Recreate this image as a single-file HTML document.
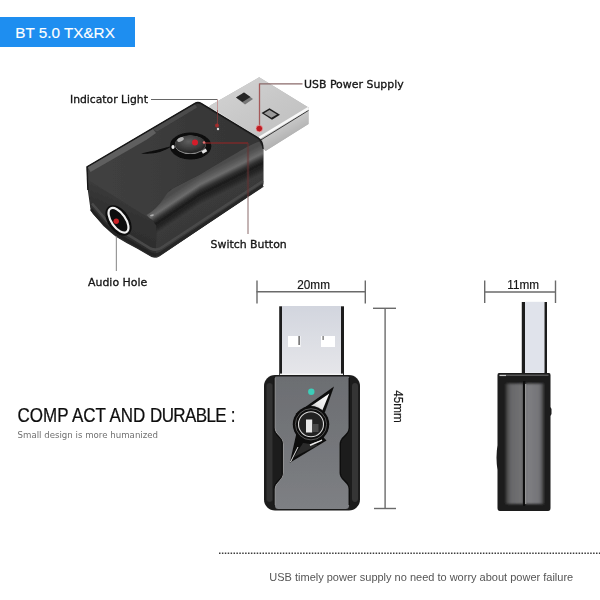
<!DOCTYPE html>
<html lang="en">
<head>
<meta charset="utf-8">
<title>BT 5.0 TX&amp;RX</title>
<style>
html,body{margin:0;padding:0;background:#fff;}
body{width:600px;height:600px;overflow:hidden;font-family:"Liberation Sans",sans-serif;}
svg{display:block;}
text{font-family:"Liberation Sans",sans-serif;}
text.dj{font-family:"DejaVu Sans","Liberation Sans",sans-serif;}
</style>
</head>
<body>
<svg width="600" height="600" viewBox="0 0 600 600">
<defs>
  <filter id="soft" x="-5%" y="-5%" width="110%" height="110%"><feGaussianBlur stdDeviation="0.55"/></filter>
  <filter id="soft3" x="-20%" y="-5%" width="140%" height="110%"><feGaussianBlur stdDeviation="0.9"/></filter>
  <filter id="soft2" x="-20%" y="-20%" width="140%" height="140%"><feGaussianBlur stdDeviation="1.2"/></filter>
  <filter id="tsoft" x="-5%" y="-20%" width="110%" height="140%"><feGaussianBlur stdDeviation="0.25"/></filter>
  <linearGradient id="metalTop" x1="0" y1="0" x2="1" y2="1">
    <stop offset="0" stop-color="#d6d6d6"/><stop offset="0.5" stop-color="#c8c8c8"/><stop offset="1" stop-color="#bebebe"/>
  </linearGradient>
  <linearGradient id="metalFront" x1="0" y1="0" x2="0" y2="1">
    <stop offset="0" stop-color="#d2d5de"/><stop offset="0.5" stop-color="#dcdee4"/><stop offset="1" stop-color="#e6e6ea"/>
  </linearGradient>
  <linearGradient id="topSurf" gradientUnits="userSpaceOnUse" x1="100" y1="160" x2="250" y2="160">
    <stop offset="0" stop-color="#404040"/><stop offset="0.5" stop-color="#3a3a3a"/><stop offset="1" stop-color="#343434"/>
  </linearGradient>
  <linearGradient id="metalEdge" gradientUnits="userSpaceOnUse" x1="285" y1="122" x2="292" y2="135">
    <stop offset="0" stop-color="#cacaca"/><stop offset="1" stop-color="#b4b4b4"/>
  </linearGradient>
  <linearGradient id="sideG" gradientUnits="userSpaceOnUse" x1="200" y1="175" x2="224.400" y2="211.600">
    <stop offset="0" stop-color="#4c4c4c"/><stop offset="0.08" stop-color="#585858"/><stop offset="0.18" stop-color="#6c6c6c"/><stop offset="0.28" stop-color="#343434"/>
    <stop offset="0.36" stop-color="#1c1c1c"/><stop offset="0.46" stop-color="#262626"/><stop offset="0.56" stop-color="#3a3a3a"/>
    <stop offset="1" stop-color="#383838"/>
  </linearGradient>
  <linearGradient id="sideGR" gradientUnits="userSpaceOnUse" x1="200" y1="175" x2="221.200" y2="217.400">
    <stop offset="0" stop-color="#4c4c4c"/><stop offset="0.08" stop-color="#585858"/><stop offset="0.18" stop-color="#6c6c6c"/><stop offset="0.28" stop-color="#343434"/>
    <stop offset="0.36" stop-color="#1c1c1c"/><stop offset="0.46" stop-color="#262626"/><stop offset="0.56" stop-color="#3a3a3a"/>
    <stop offset="1" stop-color="#383838"/>
  </linearGradient>
  <clipPath id="clipL"><rect x="80" y="90" width="120" height="180"/></clipPath>
  <clipPath id="clipR"><rect x="200" y="90" width="80" height="180"/></clipPath>
  <linearGradient id="shoulder" gradientUnits="userSpaceOnUse" x1="205" y1="168" x2="216" y2="190">
    <stop offset="0" stop-color="#343434"/><stop offset="0.4" stop-color="#545454"/><stop offset="0.75" stop-color="#404040"/><stop offset="1" stop-color="#2a2a2a"/>
  </linearGradient>
  <linearGradient id="sideLow" gradientUnits="userSpaceOnUse" x1="210" y1="192" x2="222" y2="214">
    <stop offset="0" stop-color="#242424"/><stop offset="0.45" stop-color="#2c2c2c"/><stop offset="0.6" stop-color="#444"/><stop offset="1" stop-color="#303030"/>
  </linearGradient>
  <linearGradient id="endFace" gradientUnits="userSpaceOnUse" x1="130" y1="195" x2="112" y2="240">
    <stop offset="0" stop-color="#3c3c3c"/><stop offset="0.35" stop-color="#333"/><stop offset="1" stop-color="#2c2c2c"/>
  </linearGradient>
  <linearGradient id="panel" x1="0" y1="0" x2="0" y2="1">
    <stop offset="0" stop-color="#6c6e72"/><stop offset="0.5" stop-color="#74767a"/><stop offset="1" stop-color="#7e8084"/>
  </linearGradient>
  <linearGradient id="sidePanelL" x1="0" y1="0" x2="1" y2="0">
    <stop offset="0" stop-color="#3a3a3a"/><stop offset="0.3" stop-color="#68686a"/><stop offset="1" stop-color="#727274"/>
  </linearGradient>
  <linearGradient id="sidePanelR" x1="0" y1="0" x2="1" y2="0">
    <stop offset="0" stop-color="#808084"/><stop offset="0.75" stop-color="#747478"/><stop offset="1" stop-color="#3a3a3a"/>
  </linearGradient>
  <linearGradient id="boltHi" x1="1" y1="0" x2="0" y2="1">
    <stop offset="0" stop-color="#ffffff"/><stop offset="0.6" stop-color="#e8e8e8"/><stop offset="1" stop-color="#9a9a9a"/>
  </linearGradient>
  <radialGradient id="btn" cx="0.45" cy="0.35" r="0.7">
    <stop offset="0" stop-color="#5e5e5e"/><stop offset="0.6" stop-color="#3a3a3a"/><stop offset="1" stop-color="#1c1c1c"/>
  </radialGradient>
</defs>
<rect width="600" height="600" fill="#fff"/>
<rect x="0" y="17" width="135" height="30" fill="#1e8ef0"/>
<text transform="translate(15.3,38) scale(0.985,1)" font-size="15.5" fill="#fff" stroke="#fff" stroke-width="0.15">BT 5.0 TX&amp;RX</text>

<g id="persp" filter="url(#soft)">
  <!-- usb plug -->
  <polygon points="211,105 259.200,77.300 308.500,107.500 308.500,124 265.500,151 256,141 206,110" fill="#b4b4b4"/>
  <polygon points="211,105 259.200,77.300 308.500,107.500 260,137.500 256,141 206,110" fill="url(#metalTop)"/>
  <polygon points="214,109.500 258,137 256,141 206,110" fill="#ececec"/>
  <polygon points="308.500,107.500 308.500,124 265.500,151 262,138" fill="url(#metalEdge)"/>
  <polyline points="260.500,140.200 308.500,110.400" stroke="#3a3a3a" stroke-width="1" fill="none"/>
  <polyline points="259,138 308.500,108.200" stroke="#f8f8f8" stroke-width="2.600" fill="none"/>
  <polygon points="236,97.500 244,92.500 253,99 245,104.500" fill="#777"/>
  <polygon points="236,97.500 244,92.500 250.500,97 242.500,102" fill="#262626"/>
  <polygon points="261.500,113 269.500,108.300 280,114.800 272,119.700" fill="#1c1c1c"/>
  <polygon points="264,113.200 269.500,110 277,114.600 271.500,117.800" fill="#9a9a9a"/>
  <!-- body silhouette -->
  <path id="sil" d="M86.700,166.700 L194.500,103.200 Q198,101.200 201.500,103.300 L258,137.500 Q263.300,141 263.300,149 L263.300,184 Q263.300,186.500 261,188 L159.500,256.300 Q156,258.800 151.500,257 L137.300,248.700 Q126,243 116,236.700 Q110,232.500 104,226 L93,214 Q90.500,211.500 90.300,208 L87.800,190 Z" fill="#2a2a2a"/>
  <!-- top surface + end face base -->
  <path d="M88,167.500 L195,104.800 Q198,103 201,104.800 L257.500,139 Q260.500,141 258.500,143.500 L170,190 L150,220 L156,256 L151.500,256 L137.300,247.700 Q126,242 116,235.700 Q110,231.500 104,225 L94,214 Q91.500,211.500 91.300,208 L88.800,190 Z" fill="url(#topSurf)"/>
  <!-- end face darkening -->
  <path d="M88.500,180 L146,216 L156,224 L157,256.500 L151.500,256.500 L137.300,248.200 Q126,242.500 116,236.200 Q110,232 104,225.500 L93.500,214 Q91,211.500 90.800,208 Z" fill="url(#endFace)"/>
  <!-- top-left bevel -->
  <path d="M87.800,167.300 L153,129 L156,133 L147,139.500 L90.500,172 Z" fill="#5e5e5e"/>
  <path d="M153,129 L195,104.500 L197,107.500 L157,131.500 Z" fill="#4c4c4c"/>
  <!-- side (shoulder + lower) -->
  <path clip-path="url(#clipL)" d="M146.500,215 Q157,209 164,198 Q167,192.500 172,189 L200,174.500 L240,151 Q252,144 259.500,141.500 L263.300,149 L263.300,184 Q263.300,186.500 261,188 L159.500,256.300 Q157.500,257.500 156,257.500 L156.500,226 Q152,219 146.500,215 Z" fill="url(#sideG)"/>
  <path clip-path="url(#clipR)" d="M146.500,215 Q157,209 164,198 Q167,192.500 172,189 L200,174.500 L240,151 Q252,144 259.500,141.500 L263.300,149 L263.300,184 Q263.300,186.500 261,188 L159.500,256.300 Q157.500,257.500 156,257.500 L156.500,226 Q152,219 146.500,215 Z" fill="url(#sideGR)"/>
  <!-- chamfer strip -->
  <path d="M92,203.500 L106.700,220.700 Q117,229.500 129,235.500 L150.500,248.500 Q156,251 161,248 L263,181" fill="none" stroke="#4c4c4c" stroke-width="2.600" opacity="0.9"/>
  <path d="M91,209 L104,224.500 Q115,234 128,240.500 L150.500,253.500 Q156,256 161,253 L263,185.500" fill="none" stroke="#222" stroke-width="3" opacity="0.8"/>
  <!-- outline -->
  <path d="M87.800,190 L86.900,166.800 L194.500,103.400 Q198,101.400 201.500,103.500 L258,137.700 Q263.100,141 263.100,149" fill="none" stroke="#151515" stroke-width="1.200"/>
  <!-- shoulder tip glint -->
  <ellipse cx="152" cy="215.300" rx="2" ry="0.900" fill="#b0b0b0" transform="rotate(-15 152 215.300)"/>
  <!-- crease -->
  <path d="M141,153.500 Q158,150 172,146 Q160,155 141,153.500 Z" fill="#0a0a0a"/>
  <!-- button -->
  <ellipse cx="190.600" cy="146" rx="20.700" ry="13.400" fill="#0b0b0b"/>
  <ellipse cx="190.300" cy="144.800" rx="15.500" ry="9.300" fill="#8a8a8a"/>
  <ellipse cx="190.300" cy="144.200" rx="15.300" ry="9" fill="url(#btn)"/>
  <ellipse cx="180.500" cy="139.500" rx="3.500" ry="2" fill="#b0b0b0" transform="rotate(-25 180.500 139.500)"/>
  <ellipse cx="173" cy="147" rx="1.600" ry="2" fill="#eee"/>
  <rect x="201.800" y="149.700" width="5" height="3" fill="#e4e4e4" transform="rotate(-32 204.300 151.200)"/>
  <!-- jack -->
  <ellipse cx="118.500" cy="220.500" rx="10.500" ry="17.200" fill="#0c0c0c" transform="rotate(-35 118.500 220.500)"/>
  <ellipse cx="118.500" cy="220.300" rx="7" ry="14.200" fill="#0c0c0c" stroke="#f0f0f0" stroke-width="2.200" transform="rotate(-35 118.500 220.300)"/>
</g>

<g fill="none" stroke-width="1">
  <polyline points="151,99.500 217.500,99.500" stroke="#666"/>
  <polyline points="217.500,99.500 217.500,110" stroke="#c49a9a"/>
  <polyline points="217.500,110 217.500,126" stroke="#8a3a3a" opacity="0.7"/>
  <polyline points="302.500,83.800 259.500,83.800" stroke="#8a6a6a" stroke-width="1.200"/>
  <polyline points="259.500,83.500 259.500,126" stroke="#a45a5a" stroke-width="1.300"/>
  <g filter="url(#soft)"><polyline points="204,143 248,143" stroke="#8a2a2a" opacity="0.6" stroke-width="1.800"/>
  <polyline points="248,143 248,196" stroke="#6a3030" opacity="0.5" stroke-width="2.400"/></g>
  <line x1="248" y1="196" x2="248" y2="234" stroke="#8a6a6a"/>
  <line x1="116.400" y1="236.500" x2="116.400" y2="271" stroke="#999" stroke-width="1.200"/>
</g>
<g filter="url(#tsoft)">
<circle cx="259.300" cy="128.600" r="3.300" fill="#bc1a22" stroke="#f0a8a8" stroke-width="1" stroke-opacity="0.7"/>
<circle cx="195" cy="142.500" r="3" fill="#d41f2a"/>
<circle cx="204" cy="142.500" r="1.300" fill="#e07070"/>
<circle cx="116.200" cy="221.200" r="2.700" fill="#cc2028"/>
<circle cx="217" cy="125.500" r="2" fill="#b02a2a" opacity="0.85"/>
<circle cx="218" cy="129" r="1.200" fill="#ddd"/>
</g>
<g filter="url(#tsoft)">
<text transform="translate(70,102.7) scale(0.99,1)" font-size="10.9" fill="#141414" class="dj" stroke="#141414" stroke-width="0.3">Indicator Light</text>
<text transform="translate(304,88) scale(1.005,1)" font-size="10.9" fill="#141414" class="dj" stroke="#141414" stroke-width="0.3">USB Power Supply</text>
<text transform="translate(210.5,247.5) scale(1.005,1)" font-size="10.9" fill="#141414" class="dj" stroke="#141414" stroke-width="0.3">Switch Button</text>
<text transform="translate(88,286) scale(1.005,1)" font-size="10.9" fill="#141414" class="dj" stroke="#141414" stroke-width="0.3">Audio Hole</text>
</g>

<g id="front" filter="url(#soft)">
  <rect x="279.200" y="306.300" width="3" height="70" fill="#1e1e1e"/>
  <rect x="341" y="306.300" width="3" height="70" fill="#1e1e1e"/>
  <rect x="282" y="306" width="59" height="69" fill="url(#metalFront)"/>
  <rect x="280" y="373.600" width="63" height="1.600" fill="#f4f4f4"/>
  <rect x="288" y="336" width="12.500" height="11" fill="#fff"/>
  <rect x="321" y="336" width="14" height="11" fill="#fff"/>
  <rect x="298.500" y="336" width="1.200" height="9" fill="#444"/>
  <rect x="322.500" y="336" width="1.200" height="4" fill="#666"/>
  <rect x="264" y="375" width="96" height="135.500" rx="11" fill="#1d1d1d"/>
  <path d="M276,377.300 L348,377.300" stroke="#b0b0b0" stroke-width="0.800"/>
  <rect x="266.500" y="383" width="6" height="119" rx="3" fill="#303030"/>
  <rect x="352" y="383" width="6" height="119" rx="3" fill="#343434"/>
  <path d="M275,376.800 L349,376.800 L349,428 Q349,432 344.500,436 Q340,440 340,444 L340,473 Q340,477 344.500,481 Q349,485 349,489 L349,505.500 Q349,509 345.500,509 L278.500,509 Q275,509 275,505.500 L275,489 Q275,485 279.300,481 Q283.500,477 283.500,473 L283.500,444 Q283.500,440 279.300,436 Q275,432 275,428 Z" fill="url(#panel)"/>
  <path d="M275,378 L275,428 Q275,432 279.300,436 Q283.500,440 283.500,444 L283.500,473 Q283.500,477 279.300,481 Q275,485 275,489 L275,505" fill="none" stroke="#9a9a9a" stroke-width="0.900"/>
  <path d="M273.800,378 L273.800,428 Q273.800,432 278,436 Q282.200,440 282.200,444 L282.200,473 Q282.200,477 278,481 Q273.800,485 273.800,489 L273.800,505" fill="none" stroke="#111" stroke-width="1.200"/>
  <path d="M349.300,378 L349.300,428 Q349.300,432 344.800,436 Q340.300,440 340.300,444 L340.300,473 Q340.300,477 344.800,481 Q349.300,485 349.300,489 L349.300,505" fill="none" stroke="#111" stroke-width="1.500"/>
  <!-- bolt -->
  <path d="M334,386.500 L295.500,414 L311,424 L325,412 Z" fill="#0d0d0d"/>
  <path d="M296.500,433 L289.800,462.800 L326.500,440.500 L311,424 Z" fill="#0d0d0d"/>
  <path d="M329.300,393.500 L309.500,407 L322,411.300 Z" fill="url(#boltHi)"/>
  <path d="M294,457 L303,443 L318,445 Z" fill="#2c2c2c"/>
  <path d="M310,445.300 L322,440" stroke="#e8e8e8" stroke-width="1.700" fill="none"/>
  <path d="M290.500,462 L298,447" stroke="#ddd" stroke-width="1" fill="none"/>
  <!-- button -->
  <circle cx="311" cy="424.300" r="18.200" fill="#0c0c0c"/>
  <circle cx="311" cy="424.300" r="15.600" fill="none" stroke="#6a6a6a" stroke-width="0.800"/>
  <circle cx="311" cy="424.300" r="12.500" fill="#222" stroke="#d8d8d8" stroke-width="1.100"/>
  <rect x="306" y="419.500" width="6.200" height="13" fill="#e8e8e8"/>
  <rect x="313" y="424" width="5.500" height="8" fill="#4a4a4a"/>
  <!-- led -->
  <circle cx="311.300" cy="391.800" r="3.200" fill="#3ccdb9"/>
</g>


<g id="side" filter="url(#soft)">
  <rect x="521.800" y="302" width="3.200" height="72" fill="#1c1c1c"/>
  <rect x="544.300" y="302" width="2.700" height="72" fill="#1c1c1c"/>
  <rect x="525" y="301.800" width="19.300" height="71" fill="#e0e3eb"/>
  <path d="M499,373 L549,373 Q550.500,373 550.500,375 L550.500,407 L551.500,409 L551.500,414 L550.500,416 L550.500,508 Q550.500,511 548,511 L500,511 Q497.500,511 497.500,508 L497.500,470 Q495.500,458 497.500,445 L497.500,375 Q497.500,373 499,373 Z" fill="#1b1b1b"/>
  <g filter="url(#soft3)"><rect x="505.500" y="383.500" width="18" height="120.500" fill="url(#sidePanelL)"/>
  <rect x="525.500" y="383.500" width="18.500" height="120.500" fill="url(#sidePanelR)"/></g>
  <rect x="523" y="381" width="2.200" height="125" fill="#0e0e0e"/>
  <rect x="525.200" y="384" width="1.100" height="120" fill="#a8a8a8"/>
  <path d="M499.500,375.300 L548.500,375.300" stroke="#555" stroke-width="1.600"/>
  <path d="M499.500,375.500 L506,375.500" stroke="#ccc" stroke-width="1.200"/>
</g>

<g stroke="#6a6a6a" stroke-width="1.400" fill="none" filter="url(#tsoft)">
  <line x1="256.500" y1="291.800" x2="365.500" y2="291.800"/>
  <line x1="257" y1="280.500" x2="257" y2="303.500"/>
  <line x1="365.300" y1="280.500" x2="365.300" y2="303.500"/>
  <line x1="484.500" y1="292" x2="555.500" y2="292"/>
  <line x1="484.700" y1="280.500" x2="484.700" y2="303"/>
  <line x1="555.500" y1="280.500" x2="555.500" y2="303"/>
  <line x1="385.100" y1="308" x2="385.100" y2="509"/>
  <line x1="373" y1="308.300" x2="396" y2="308.300"/>
  <line x1="374" y1="508.500" x2="396" y2="508.500"/>
</g>
<g filter="url(#tsoft)">
<text transform="translate(297.3,289) scale(0.87,1)" font-size="13.5" fill="#151515" stroke="#151515" stroke-width="0.2">20mm</text>
<text transform="translate(507.3,289) scale(0.87,1)" font-size="13.5" fill="#151515" stroke="#151515" stroke-width="0.2">11mm</text>
<text transform="translate(393.6,390.2) rotate(90) scale(0.87,1)" font-size="13.5" fill="#151515" stroke="#151515" stroke-width="0.2">45mm</text>
<text transform="translate(17.5,421.5) scale(0.85,1)" font-size="20" fill="#111" stroke="#111" stroke-width="0.25">COMP ACT AND <tspan letter-spacing="-0.7">DURABLE</tspan><tspan dx="5.5">:</tspan></text>
<text transform="translate(17.5,438)" font-size="8.65" fill="#707070" class="dj">Small design is more humanized</text>
<text transform="translate(269.3,581.3)" font-size="11" fill="#555">USB timely power supply no need to worry about power failure</text>
</g>
<line x1="219" y1="553.200" x2="600" y2="553.200" stroke="#3c3c3c" stroke-width="1.400" stroke-dasharray="1.500,1.400"/>
</svg>
</body>
</html>
